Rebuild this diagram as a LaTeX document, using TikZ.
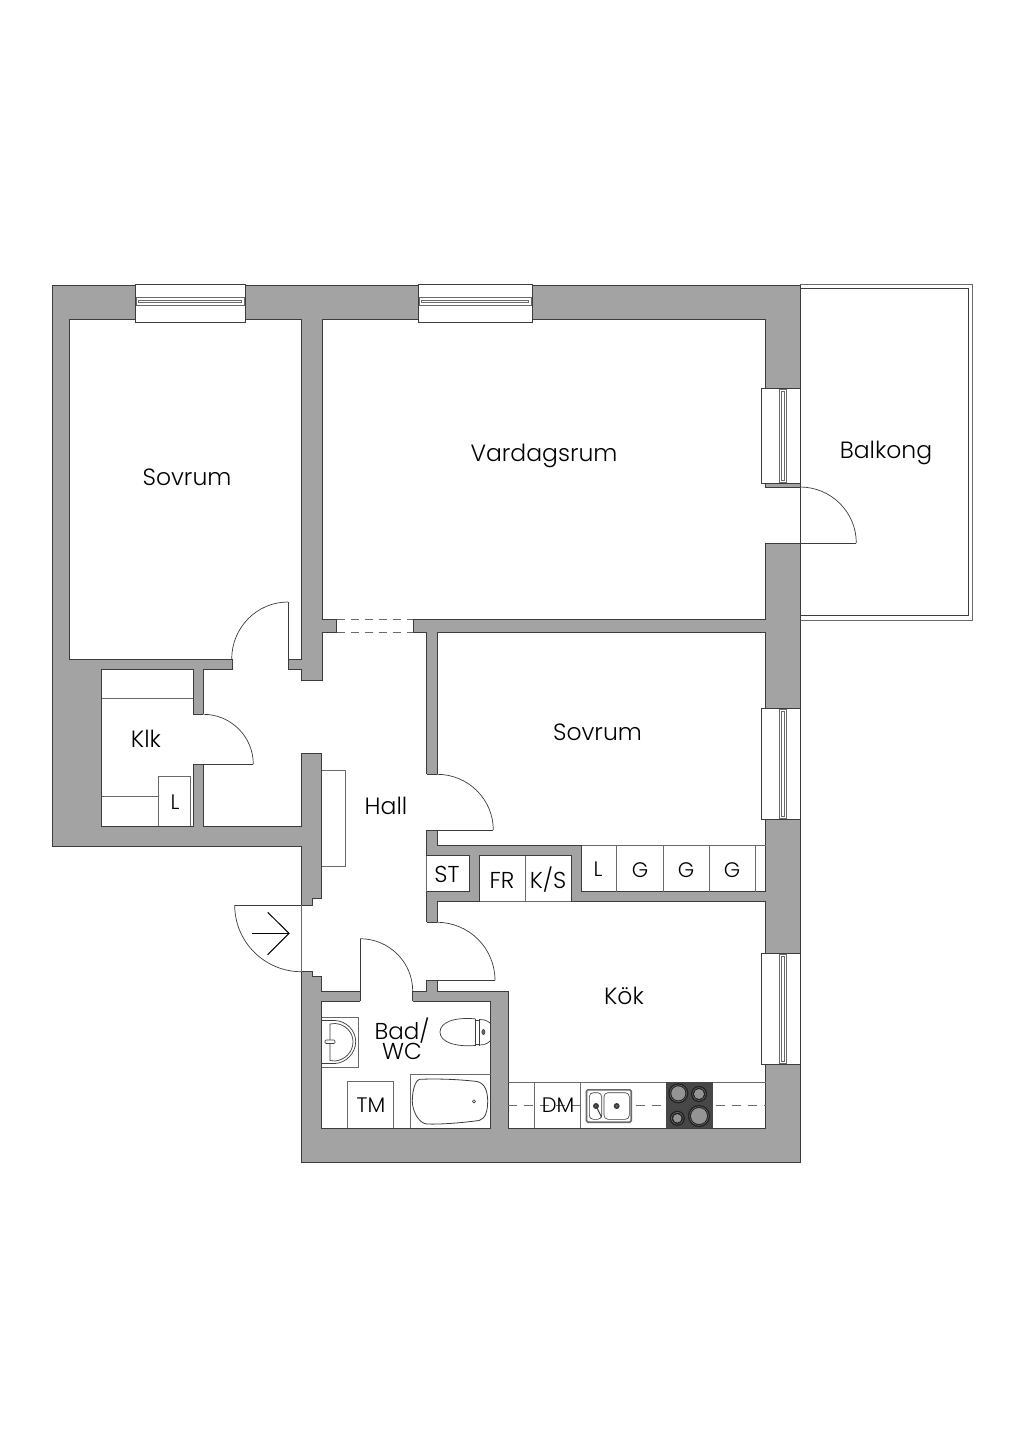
\documentclass[tikz,border=0pt]{standalone}
\usepackage{fontspec}
\setmainfont{Poppins}[UprightFont=* Light]
\usetikzlibrary{calc}
\definecolor{wallc}{HTML}{A3A3A3}
\definecolor{edgec}{HTML}{3C3C3C}
\definecolor{thinc}{HTML}{6A6A6A}
\tikzset{
  wall/.style={fill=wallc,draw=edgec,line width=0.9pt,line join=miter},
  room/.style={fill=white,draw=edgec,line width=0.9pt,line join=miter},
  fitting/.style={draw=thinc,line width=0.7pt},
  fitbox/.style={fill=white,draw=thinc,line width=0.7pt},
  leaf/.style={draw=edgec,line width=0.7pt},
  label/.style={font=\fontsize{23.5}{26}\selectfont,text=black,inner sep=0pt},
  smalllabel/.style={font=\fontsize{21}{24}\selectfont,text=black,inner sep=0pt},
  midlabel/.style={font=\fontsize{23}{24}\selectfont,text=black,inner sep=0pt},
  passage/.style={draw=thinc,line width=0.8pt,dash pattern=on 8pt off 6pt},
  counterdash/.style={draw=thinc,line width=0.8pt,dash pattern=on 9pt off 7pt},
}
% door opening through a vertical wall: x1,x2,y1,y2
\newcommand{\dgapV}[4]{%
  \fill[white] (#1-0.8,#3) rectangle (#2+0.8,#4);
  \draw[edgec,line width=0.9pt] (#1,#3) -- (#2,#3) (#1,#4) -- (#2,#4);}
% door opening through a horizontal wall
\newcommand{\dgapH}[4]{%
  \fill[white] (#1,#3-0.8) rectangle (#2,#4+0.8);
  \draw[edgec,line width=0.9pt] (#1,#3) -- (#1,#4) (#2,#3) -- (#2,#4);}
% quarter arc P0 -> P1 about C
\newcommand{\darc}[6]{%
  \draw[leaf] (#1,#2) .. controls ($(#1,#2)+0.5523*(#3-#5,#4-#6)$) and ($(#3,#4)+0.5523*(#1-#5,#2-#6)$) .. (#3,#4);}
% window in top wall
\newcommand{\winTop}[2]{%
  \fill[white] (#1,284.6) rectangle (#2,322.7);
  \draw[edgec,line width=0.7pt] (#1,322.7) -- (#1,284.6) -- (#2,284.6) -- (#2,322.7) -- cycle;
  \draw[draw=thinc,line width=0.7pt,fill=white] (#1+1,297.7) rectangle (#2-1,305);
  \draw[draw=thinc,line width=0.7pt] (#1+3.5,300) rectangle (#2-3.5,302.7);}
% window in right wall
\newcommand{\winRight}[2]{%
  \fill[white] (761.7,#1) rectangle (800,#2);
  \draw[edgec,line width=0.7pt] (800,#1) -- (761.7,#1) -- (761.7,#2) -- (800,#2) -- cycle;
  \draw[draw=thinc,line width=0.7pt] (779,#1+1) rectangle (786.5,#2-1);
  \draw[draw=thinc,line width=0.7pt] (781.3,#1+3) rectangle (784.3,#2-3);}
\begin{document}
\begin{tikzpicture}[x=1pt,y=-1pt]
\useasboundingbox (0,0) rectangle (1024,1448);
\fill[white] (0,0) rectangle (1024,1448);
% balcony
\draw[thinc,line width=0.7pt] (800,284.6) -- (972.3,284.6) -- (972.3,620) -- (800,620);
\draw[edgec,line width=1pt] (800,288.3) -- (968.7,288.3) -- (968.7,615.7) -- (800,615.7);
% walls
\path[wall] (52,285) -- (800,285) -- (800,1162.5) -- (301.3,1162.5) -- (301.3,846) -- (52,846) -- cycle;
% rooms
\path[room] (69.3,319) -- (301,319) -- (301,659) -- (69.3,659) -- cycle;
\path[room] (322,319) -- (765.7,319) -- (765.7,487.3) -- (800,487.3) -- (800,543) -- (765.7,543) -- (765.7,619.3) -- (322,619.3) -- cycle;
\path[room] (101.7,669.3) -- (193.3,669.3) -- (193.3,826.3) -- (101.7,826.3) -- cycle;
\path[room] (437,632.7) -- (765.7,632.7) -- (765.7,891.7) -- (581.7,891.7) -- (581.7,845.7) -- (437,845.7) -- cycle;
\path[room] (437,901.7) -- (765.7,901.7) -- (765.7,1128.3) -- (508.3,1128.3) -- (508.3,991) -- (437,991) -- cycle;
\path[room] (321.7,1001) -- (490.7,1001) -- (490.7,1128.3) -- (321.7,1128.3) -- cycle;
% hall
\path[room] (322,632.7) -- (426.7,632.7) -- (426.7,991) -- (321.7,991) -- (321.7,976.7) -- (312.7,976.7) -- (312.7,971.7) -- (301.3,971.7) -- (301.3,905) -- (312.7,905) -- (312.7,898.3) -- (321.7,898.3) -- (321.7,753.3) -- (301.3,753.3) -- (301.3,826.3) -- (203.3,826.3) -- (203.3,669.3) -- (232,669.3) -- (232,659) -- (288,659) -- (288,669.3) -- (301,669.3) -- (301,680) -- (322,680) -- cycle;
% closet boxes in walls
\path[fitbox] (479,855.7) rectangle (571.7,901.7);
\draw[edgec,line width=0.9pt] (479,901.7) -- (479,855.7) -- (571.7,855.7) -- (571.7,901.7);
\draw[fitting] (525.3,855.7) -- (525.3,901.7);
\fill[white] (426.5,855.7) rectangle (469,891.7);
\draw[edgec,line width=0.9pt] (426.7,855.7) -- (469,855.7) -- (469,891.7) -- (426.7,891.7);
\draw[fitting] (426.7,855.7) -- (426.7,891.7);
% openings
\fill[white] (232.5,657.5) rectangle (287.5,660.5);
\dgapV{193.3}{203.3}{714.3}{764.3}
\dgapV{426.7}{437}{774.3}{830}
\dgapV{426.7}{437}{922.3}{980}
\dgapH{360}{412.7}{991}{1001}
\dgapH{336.7}{413.3}{619.3}{632.7}
\draw[passage] (336.7,619.3) -- (413.3,619.3);
\draw[passage] (336.7,632.7) -- (413.3,632.7);
% door leaves
\draw[leaf] (288,659) -- (288,602); \darc{288}{602}{231.7}{659}{288}{659}
\draw[leaf] (203.3,764.3) -- (253.3,764.3); \darc{253.3}{764.3}{203.3}{714.3}{203.3}{764.3}
\draw[leaf] (437,830) -- (493.3,830); \darc{493.3}{830}{437}{774.3}{437}{830}
\draw[leaf] (437,980.3) -- (495,980.3); \darc{495}{980.3}{437}{922.3}{437}{980.3}
\draw[leaf] (360,991) -- (360,938.7); \darc{360}{938.7}{412.7}{991}{360}{991}
\draw[leaf] (800,543) -- (856.3,543); \darc{856.3}{543}{800}{487}{800}{543}
\draw[leaf] (301.3,905) -- (234.7,905); \darc{234.7}{905}{301.3}{971.7}{301.3}{905}
\draw[fitting] (301.3,905) -- (301.3,971.7);
% entrance arrow
\draw[black,line width=1pt] (252.3,933.3) -- (289,933.3);
\draw[black,line width=1pt,line join=miter] (267.7,912.3) -- (289,933.3) -- (267.7,954.7);
% windows
\winTop{135}{245}
\winTop{418}{532}
\winRight{388.3}{483.3}
\winRight{708.3}{819}
\winRight{953.3}{1064}
% klk fittings
\draw[fitting] (101.7,698.3) -- (193.3,698.3);
\draw[fitting] (101.7,796.7) -- (158.3,796.7);
\draw[fitbox] (158.3,826.3) -- (158.3,776.7) -- (190.7,776.7) -- (190.7,826.3);
% hall closet
\draw[fitbox] (321.7,770.7) -- (345.3,770.7) -- (345.3,866.3) -- (321.7,866.3);
% sov2 closet
\draw[fitting] (581.7,845.7) -- (765.7,845.7);
\draw[fitting] (616.7,845.7) -- (616.7,891.7);
\draw[fitting] (663.3,845.7) -- (663.3,891.7);
\draw[fitting] (709.3,845.7) -- (709.3,891.7);
\draw[fitting] (755.7,845.7) -- (755.7,891.7);
% bathroom sink
\draw[fitting] (321.7,1017.3) -- (358.3,1017.3) -- (358.3,1067.7) -- (321.7,1067.7);
\draw[edgec,line width=0.7pt] (321.7,1020.5) -- (335,1020.5) .. controls (346,1021) and (355.7,1030) .. (355.7,1041.7) .. controls (355.7,1053) and (346,1063) .. (335,1063.5) -- (321.7,1063.5);
\draw[edgec,line width=0.7pt] (330,1024) -- (335,1023.5) .. controls (345,1024) and (353,1032) .. (353,1041.7) .. controls (353,1052) and (345,1060) .. (335,1061) -- (330,1060.5) -- cycle;
\draw[edgec,fill=white,line width=0.6pt,rounded corners=1pt] (325,1040) rectangle (335,1043.5);
% toilet
\draw[edgec,line width=0.7pt] (475,1018.8) .. controls (455,1017) and (440,1022) .. (440,1032) .. controls (440,1042) and (455,1047) .. (475,1045.5);
\draw[edgec,line width=0.7pt] (475,1018.8) -- (475,1045.5);
\draw[edgec,line width=0.7pt] (479.5,1018.5) -- (479.5,1045.5);
\draw[edgec,line width=0.7pt] (475,1020) -- (480,1020) (475,1044.5) -- (480,1044.5);
\draw[edgec,line width=0.7pt] (479.5,1019.5) .. controls (486,1019) and (490.5,1023) .. (490.7,1024);
\draw[edgec,line width=0.7pt] (479.5,1045) .. controls (486,1045.5) and (490.5,1041) .. (490.7,1040);
\draw[edgec,fill=thinc,line width=0.5pt] (483.4,1032) ellipse (1.6 and 2.6);
% bath
\draw[fitting] (410.3,1128.3) -- (410.3,1074.3) -- (490.7,1074.3);
\draw[edgec,line width=0.8pt] (420,1079.3) .. controls (440,1078.5) and (460,1079.5) .. (477,1081.5) .. controls (485,1083) and (487.7,1092) .. (487.7,1101) .. controls (487.7,1112) and (485,1119) .. (479,1120.5) .. controls (460,1123) and (440,1124.5) .. (426.7,1124) .. controls (418,1123) and (412.3,1110) .. (412.3,1101) .. controls (412.3,1091) and (415,1080) .. (420,1079.3) -- cycle;
\draw[edgec,line width=0.6pt] (474,1101.3) circle (1.6);
% tm
\draw[fitting] (347.3,1128.3) -- (347.3,1081.7) -- (393.3,1081.7) -- (393.3,1128.3);
% kitchen counter
\draw[fitting] (508.3,1082) -- (765.7,1082);
\draw[fitting] (534.3,1082) -- (534.3,1128.3);
\draw[fitting] (580.3,1082) -- (580.3,1128.3);
\draw[counterdash] (508.3,1105) -- (765.7,1105);
% kitchen sink
\draw[draw=thinc,line width=1.6pt,fill=white,rounded corners=1.5pt] (586.5,1089.8) rectangle (631.2,1122.2);
\draw[edgec,line width=0.6pt,rounded corners=4pt] (589.3,1092.7) rectangle (601.7,1119.3);
\draw[edgec,line width=0.6pt,rounded corners=4pt] (604,1092.7) rectangle (629.3,1119.3);
\fill[edgec] (596,1106) circle (3);
\fill[thinc] (596,1106) circle (1.2);
\fill[edgec] (616.7,1106) circle (3);
\fill[thinc] (616.7,1106) circle (1.2);
\draw[edgec,line width=1pt] (596,1106) -- (601.7,1117.3);
% stove
\fill[black!72] (666.3,1082) rectangle (712.7,1128.3);
\foreach \cx/\cy/\ro/\ri in {678.3/1093.3/10/7,699/1094/8/5,677.3/1118.3/7.5/4.2,699/1116/11/8}{
  \fill[black!88] (\cx,\cy) circle (\ro);
  \draw[black!55,line width=0.5pt] (\cx,\cy) circle (\ro-1.6);
  \fill[black!42] (\cx,\cy) circle (\ri);
}
% labels
\node[label] (sov1) at (187,477) {Sovrum};
\node[label] (vard) at (544,456) {Vardagsrum};
\node[label] (balk) at (886,453) {Balkong};
\node[label] (sov2) at (597.5,732) {Sovrum};
\node[label] (klk) at (146,739) {Klk};
\node[label] (hall) at (386,806) {Hall};
\node[label] (kok) at (624,996) {Kök};
\node[midlabel] (bad) at (402,1031) {Bad/};
\node[midlabel] (wc) at (402,1051.5) {WC};
\node[smalllabel] (lA) at (175,802) {L};
\node[midlabel] (st) at (447,874) {ST};
\node[midlabel] (fr) at (502,880) {FR};
\node[midlabel] (ks) at (548,880) {K/S};
\node[smalllabel] (lB) at (598,869) {L};
\node[smalllabel] (g1) at (640,870) {G};
\node[smalllabel] (g2) at (686,870) {G};
\node[smalllabel] (g3) at (732,870) {G};
\node[smalllabel] (tm) at (371,1105) {TM};
\node[smalllabel] (dm) at (558,1105) {DM};
\end{tikzpicture}
\end{document}
